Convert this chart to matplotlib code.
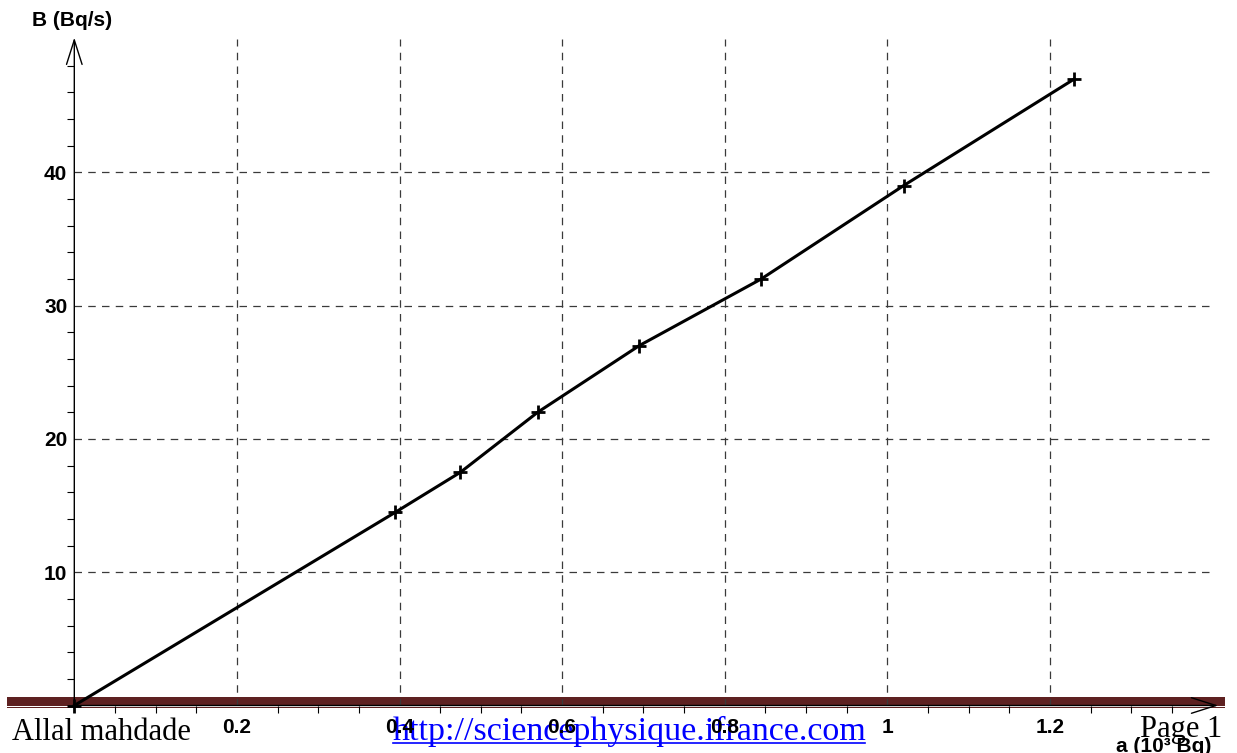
import matplotlib
matplotlib.use("Agg")
import matplotlib.pyplot as plt
from matplotlib.patches import Rectangle
from matplotlib.lines import Line2D
from matplotlib.ticker import FixedLocator, NullFormatter

# data
a_vals = [0, 0.395, 0.475, 0.57, 0.695, 0.845, 1.02, 1.23]   # a (10^3 Bq)
b_vals = [0, 14.5, 17.5, 22, 27, 32, 39, 47]                 # B (Bq/s)

x_major = [0.2, 0.4, 0.6, 0.8, 1.0, 1.2]
x_labels = ["0.2", "0.4", "0.6", "0.8", "1", "1.2"]
y_major = [10, 20, 30, 40]
y_labels = ["10", "20", "30", "40"]

W, H = 1237, 753
fig = plt.figure(figsize=(W / 100, H / 100), dpi=100)


def px(x, y):
    # pixel (from top-left) -> figure fraction
    return x / W, 1 - y / H


# axes placed so that origin sits at (74.3, 705.5) px
ax = fig.add_axes([74.3 / W, (H - 705.5) / H, 1.4 * 813 / W, 50 * 13.33 / H])
ax.set_zorder(2)
ax.set_xlim(0, 1.4)
ax.set_ylim(0, 50)
ax.patch.set_visible(False)
for s in ax.spines.values():
    s.set_visible(False)

# ticks
ax.xaxis.set_major_locator(FixedLocator(x_major))
ax.set_xticklabels(x_labels)
ax.yaxis.set_major_locator(FixedLocator(y_major))
ax.set_yticklabels(y_labels)
x_minor = [round(0.05 * i, 2) for i in range(1, 28) if i % 4 != 0]
y_minor = [2 * i for i in range(1, 25) if i % 5 != 0]
ax.xaxis.set_minor_locator(FixedLocator(x_minor))
ax.yaxis.set_minor_locator(FixedLocator(y_minor))
ax.xaxis.set_minor_formatter(NullFormatter())
ax.yaxis.set_minor_formatter(NullFormatter())
ax.tick_params(which="major", length=0)
ax.tick_params(axis="x", which="major", pad=9)
ax.tick_params(axis="y", which="major", pad=5)
ax.tick_params(which="minor", direction="out", length=5, width=0.8, color="black")
for lab in ax.get_xticklabels() + ax.get_yticklabels():
    lab.set_fontfamily("Liberation Sans")
    lab.set_fontweight("bold")
    lab.set_fontsize(15)

# dashed grid
ax.grid(True, which="major", color="#3a3a3a", lw=0.9, ls=(0, (6, 5)))

# axis arrows
arrow = dict(arrowstyle="->,head_length=1.1,head_width=0.35", lw=1.0, color="black",
             shrinkA=0, shrinkB=0, mutation_scale=16)
ax.annotate("", xy=(0, 50.1), xytext=(0, 0), arrowprops=arrow, annotation_clip=False)
ax.annotate("", xy=(1.407, 0), xytext=(0, 0), arrowprops=arrow, annotation_clip=False)

# curve
ax.plot(a_vals, b_vals, color="black", lw=2.2, marker="+", ms=10, mew=2,
        clip_on=False, zorder=5)

# axis titles
fig.text(*px(32, 21), "B (Bq/s)", fontfamily="Liberation Sans", fontweight="bold",
         fontsize=15, ha="left", va="center")
fig.text(*px(1116, 746), "a (10³ Bq)", fontfamily="Liberation Sans", fontweight="bold",
         fontsize=15, ha="left", va="center", zorder=6)

# page footer band (document border)
x0, y0 = px(7, 705.7)
fig.patches.append(Rectangle((x0, y0), (1225 - 7) / W, 8.9 / H, transform=fig.transFigure,
                             facecolor="#5e2121", edgecolor="none", zorder=-1))
x0, y0 = px(7, 708.3)
fig.patches.append(Rectangle((x0, y0), (1225 - 7) / W, 1.6 / H, transform=fig.transFigure,
                             facecolor="#5e2121", edgecolor="none", zorder=-1))

# footer texts
fig.text(*px(12, 740), "Allal mahdade", fontfamily="Liberation Serif", fontsize=22,
         ha="left", va="baseline", zorder=1)
fig.text(*px(393, 740), "http://sciencephysique.ifrance.com", fontfamily="Liberation Serif",
         fontsize=24.5, color="#0000ff", ha="left", va="baseline", zorder=1)
ux0, uy = px(393, 743)
ux1, _ = px(865, 743)
fig.add_artist(Line2D([ux0, ux1], [uy, uy], transform=fig.transFigure, color="#0000ff",
                      lw=1.2, zorder=1))
fig.text(*px(1140, 737), "Page 1", fontfamily="Liberation Serif", fontsize=22,
         ha="left", va="baseline", zorder=1)

fig.savefig("out.png", dpi=100)
